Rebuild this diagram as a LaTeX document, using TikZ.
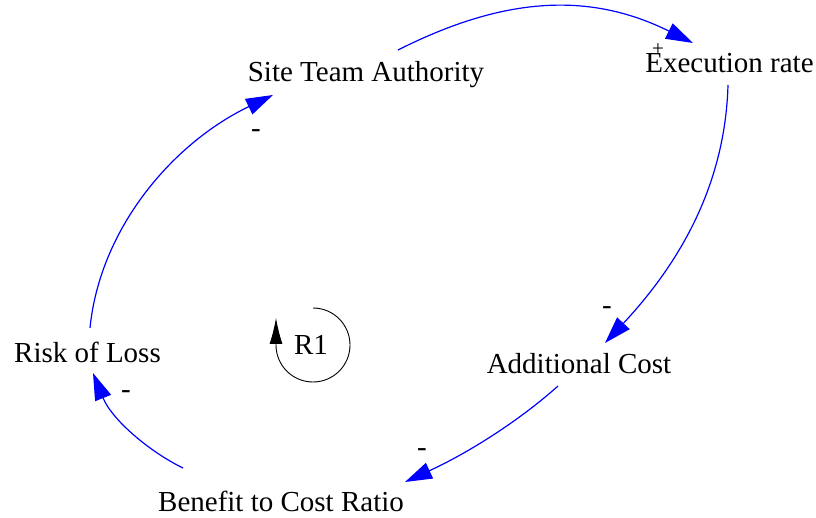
\documentclass[tikz,border=0pt]{standalone}
\usepackage{fontspec}
\setmainfont{Liberation Serif}
\usetikzlibrary{arrows.meta}
\begin{document}
\begin{tikzpicture}[x=1pt,y=1pt,
  lbl/.style={inner sep=0pt, anchor=base, font=\fontsize{29}{34}\selectfont},
  sgn/.style={inner sep=0pt, anchor=base, font=\fontsize{29}{34}\selectfont},
  link/.style={draw=blue, line width=1.2pt, -{Triangle[length=27pt,width=17pt]}},
  loopline/.style={draw=black, line width=0.9pt, -{Latex[length=26pt,width=13pt]}},
]
\useasboundingbox (0,0) rectangle (816,517);
% variables
\node[lbl] (sta) at (366,435) {Site Team Authority};
\node[lbl] (er)  at (729.5,444) {Execution rate};
\node[lbl] (ac)  at (579,144) {Additional Cost};
\node[lbl] (bcr) at (281,6) {Benefit to Cost Ratio};
\node[lbl] (rol) at (87.5,154) {Risk of Loss};
\node[lbl] (r1)  at (311,162) {R1};
% polarity signs
\node[sgn, font=\fontsize{21}{25}\selectfont] (p1) at (658,461) {+};
\node[sgn] (m2) at (607,202.5) {-};
\node[sgn] (m3) at (422,60.5) {-};
\node[sgn] (m4) at (126,118.5) {-};
\node[sgn] (m5) at (256,379.5) {-};
% links
\draw[link] ([shift={(32,32)}]sta.base) .. controls (505,521) and (590,525) .. ([shift={(-36.5,30)}]er.base);
\draw[link] ([shift={(-1.5,-12)}]er.base) .. controls (725,327) and (675,249) .. ([shift={(26,30)}]ac.base);
\draw[link] ([shift={(-21,-13)}]ac.base) .. controls (520,97) and (470,65) .. ([shift={(124,29)}]bcr.base);
\draw[link] ([shift={(-98,43)}]bcr.base) .. controls (150,65) and (112,97) .. ([shift={(5.5,-10)}]rol.base);
\draw[link] ([shift={(2.5,35)}]rol.base) .. controls (100,289) and (173,374) .. ([shift={(-93,-13)}]sta.base);
% loop symbol
\draw[loopline] ([shift={(2,47)}]r1.base) arc[start angle=90, end angle=-180, radius=37] -- ++(0,27);
\end{tikzpicture}
\end{document}
